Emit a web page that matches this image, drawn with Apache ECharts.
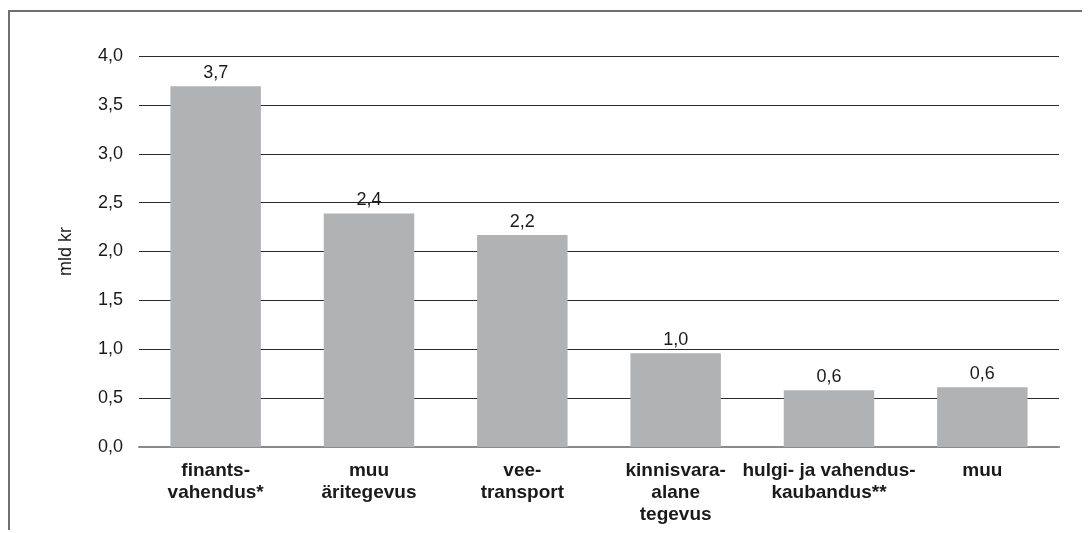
<!DOCTYPE html>
<html><head><meta charset="utf-8">
<script src="https://cdn.jsdelivr.net/npm/echarts@6/dist/echarts.min.js"></script>
<style>html,body{margin:0;padding:0;background:#fff}#c{width:1091px;height:533px}</style>
</head><body><div id="c"></div>
<script>
const categories = ['finants-\nvahendus*', 'muu\näritegevus', 'vee-\ntransport', 'kinnisvara-\nalane\ntegevus', 'hulgi- ja vahendus-\nkaubandus**', 'muu'];
const values = [3.69, 2.39, 2.17, 0.96, 0.58, 0.61];
const yTicks = [0, 0.5, 1, 1.5, 2, 2.5, 3, 3.5, 4];
const yName = 'mld kr';

const fmt = v => Number(v).toFixed(1).replace('.', ',');
const chart = echarts.init(document.getElementById('c'));
chart.setOption({
  animation: false,
  textStyle: { fontFamily: 'Liberation Sans, Arial, sans-serif' },
  graphic: [{
    type: 'polyline',
    shape: { points: [[9, 530], [9, 11], [1082, 11]] },
    style: { stroke: '#6f6f6f', lineWidth: 2, fill: null }
  }],
  grid: { left: 139, right: 32, top: 56, bottom: 86 },
  xAxis: {
    type: 'category',
    data: categories,
    axisTick: { show: false },
    axisLine: { lineStyle: { color: '#8a8a8a', width: 2 } },
    axisLabel: { color: '#1a1a1a', fontSize: 19, fontWeight: 'bold', margin: 13, lineHeight: 22, interval: 0 }
  },
  yAxis: {
    type: 'value',
    min: yTicks[0], max: yTicks[yTicks.length - 1], interval: 0.5,
    name: yName,
    nameLocation: 'middle',
    nameGap: 64,
    nameTextStyle: { color: '#1a1a1a', fontSize: 18 },
    axisLine: { show: false },
    axisTick: { show: false },
    axisLabel: { color: '#1a1a1a', fontSize: 18, margin: 16, formatter: v => fmt(v) },
    splitLine: { lineStyle: { color: '#2a2a2a', width: 1 } }
  },
  series: [{
    type: 'bar',
    data: values,
    barWidth: '59%',
    itemStyle: { color: '#b1b2b4' },
    label: { show: true, position: 'top', distance: 4, color: '#1a1a1a', fontSize: 18, formatter: p => fmt(p.value) }
  }]
});
</script></body></html>
